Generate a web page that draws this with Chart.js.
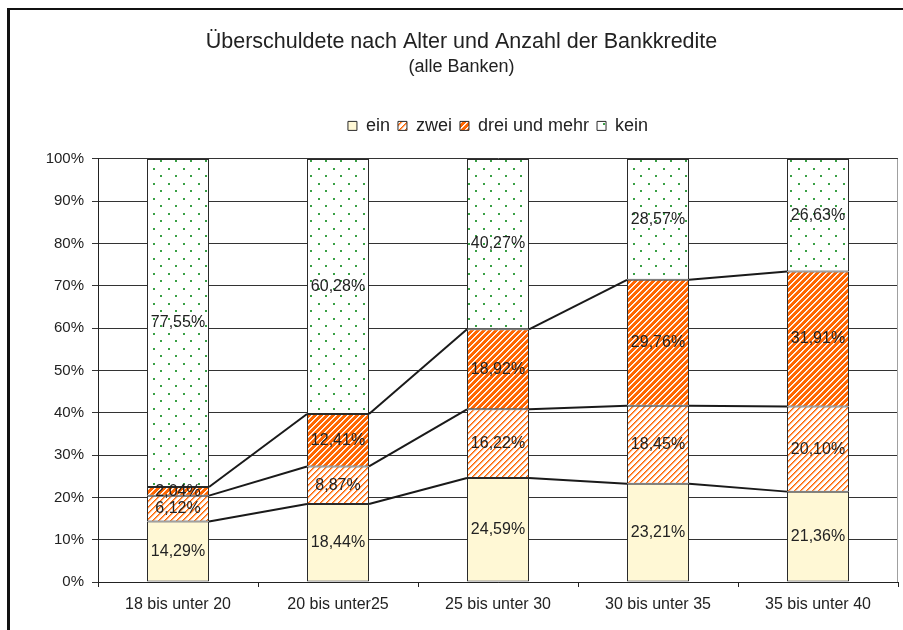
<!DOCTYPE html>
<html lang="de">
<head>
<meta charset="UTF-8">
<title>Überschuldete nach Alter und Anzahl der Bankkredite</title>
<script src="https://cdn.jsdelivr.net/npm/chart.js"></script>
<style>
  html, body { margin: 0; padding: 0; background: #fff; overflow: hidden; }
  #rahmen { position: absolute; left: 7px; top: 8px; width: 1000px; height: 800px;
            border-left: 3px solid #111; border-top: 2px solid #111; }
  #grafik { position: absolute; left: 0; top: 0; }
</style>
</head>
<body>
<div id="rahmen"></div>
<canvas id="grafik" width="903" height="630"></canvas>

<script>
  // Werte in Prozent
  const kategorien = ['18 bis unter 20', '20 bis unter25', '25 bis unter 30', '30 bis unter 35', '35 bis unter 40'];
  const ein = [14.29, 18.44, 24.59, 23.21, 21.36];
  const zwei = [6.12, 8.87, 16.22, 18.45, 20.10];
  const dreiUndMehr = [2.04, 12.41, 18.92, 29.76, 31.91];
  const kein = [77.55, 60.28, 40.27, 28.57, 26.63];
  const yTicks = [0, 10, 20, 30, 40, 50, 60, 70, 80, 90, 100];

  const SCHRIFT = '"Liberation Sans", Arial, sans-serif';
  const ABSTAND_LEGENDE = 14; // Luft zwischen Legende und Diagramm

  const canvas = document.getElementById('grafik');
  const ctx = canvas.getContext('2d');

  // schräge Schraffur "/" aus einer 6x6-Kachel
  function schraffur(farben) {
    const c = document.createElement('canvas');
    c.width = c.height = 6;
    const g = c.getContext('2d');
    for (let y = 0; y < 6; y++) {
      for (let x = 0; x < 6; x++) {
        g.fillStyle = farben[(x + y) % 6];
        g.fillRect(x, y, 1, 1);
      }
    }
    return ctx.createPattern(c, 'repeat');
  }

  function punkte() {
    const c = document.createElement('canvas');
    c.width = c.height = 15;
    const g = c.getContext('2d');
    g.fillStyle = '#fff';
    g.fillRect(0, 0, 15, 15);
    g.fillStyle = '#3aa046';
    g.fillRect(3, 3, 2, 2);
    g.fillRect(10, 10, 2, 2);
    return ctx.createPattern(c, 'repeat');
  }

  const O = '#ff6600', W = '#ffffff';
  const musterZwei = schraffur([O, '#ff9a57', '#ffe2cf', W, W, W]);
  const musterDrei = schraffur([W, '#ffe0cc', O, O, O, O]);
  const musterKein = punkte();

  // zusätzlicher Layout-Block unter der Legende
  const abstandPlugin = {
    id: 'abstand',
    beforeInit(chart) {
      Chart.layouts.addBox(chart, {
        position: 'top', weight: 1, fullSize: false, options: {},
        isHorizontal() { return true; },
        update(w) { this.width = w; this.height = ABSTAND_LEGENDE; },
        draw() {}
      });
    }
  };

  // rechter Rand der Zeichenfläche
  const randPlugin = {
    id: 'rand',
    beforeDatasetsDraw(chart) {
      const a = chart.chartArea;
      const c = chart.ctx;
      c.save();
      c.strokeStyle = '#a0a0a0';
      c.lineWidth = 1;
      c.beginPath();
      c.moveTo(a.right - 0.5, a.top);
      c.lineTo(a.right - 0.5, a.bottom);
      c.stroke();
      c.restore();
    }
  };

  // Reihenlinien zwischen den Säulen und Beschriftung der Segmente
  const linienUndWerte = {
    id: 'linienUndWerte',
    afterDatasetsDraw(chart) {
      const c = chart.ctx;
      c.save();
      c.strokeStyle = '#1a1a1a';
      c.lineWidth = 2;
      for (let d = 0; d < 3; d++) {
        const bars = chart.getDatasetMeta(d).data;
        for (let i = 0; i < bars.length - 1; i++) {
          const a = bars[i], b = bars[i + 1];
          c.beginPath();
          c.moveTo(a.x + a.width / 2, a.y);
          c.lineTo(b.x - b.width / 2, b.y);
          c.stroke();
        }
      }
      c.fillStyle = '#222';
      c.font = '16px ' + SCHRIFT;
      c.textAlign = 'center';
      c.textBaseline = 'middle';
      chart.data.datasets.forEach((ds, d) => {
        chart.getDatasetMeta(d).data.forEach((bar, i) => {
          const txt = ds.data[i].toFixed(2).replace('.', ',') + '%';
          c.fillText(txt, bar.x, (bar.y + bar.base) / 2);
        });
      });
      c.restore();
    }
  };

  const gemeinsam = {
    borderColor: '#2a2a2a', borderWidth: 1, borderSkipped: false,
    barPercentage: 0.3875, categoryPercentage: 1
  };

  new Chart(ctx, {
    type: 'bar',
    data: {
      labels: kategorien,
      datasets: [
        { label: 'ein', data: ein, backgroundColor: '#fff8d5', ...gemeinsam },
        { label: 'zwei', data: zwei, backgroundColor: musterZwei, ...gemeinsam },
        { label: 'drei und mehr', data: dreiUndMehr, backgroundColor: musterDrei, ...gemeinsam },
        { label: 'kein', data: kein, backgroundColor: musterKein, ...gemeinsam }
      ]
    },
    options: {
      responsive: false,
      animation: false,
      layout: { padding: { left: 25, right: 5, top: 0, bottom: 0 } },
      plugins: {
        title: {
          display: true,
          text: 'Überschuldete nach Alter und Anzahl der Bankkredite',
          color: '#222',
          font: { family: SCHRIFT, size: 21.5, weight: 'normal' },
          padding: { top: 29.5, bottom: 0 }
        },
        subtitle: {
          display: true,
          text: '(alle Banken)',
          color: '#222',
          font: { family: SCHRIFT, size: 18 },
          padding: { top: 1, bottom: 31 }
        },
        legend: {
          position: 'top',
          fullSize: false,
          labels: {
            color: '#222',
            font: { family: SCHRIFT, size: 18 },
            boxWidth: 9,
            boxHeight: 9,
            padding: 8
          }
        },
        tooltip: { enabled: false }
      },
      scales: {
        x: {
          stacked: true,
          grid: { drawOnChartArea: false, color: '#222', tickLength: 5 },
          border: { color: '#222', width: 1 },
          ticks: { color: '#222', font: { family: SCHRIFT, size: 16 }, padding: 8, maxRotation: 0 },
          afterFit(s) { s.height = 48; }
        },
        y: {
          stacked: true,
          min: 0,
          max: 100,
          afterBuildTicks(s) { s.ticks = yTicks.map(v => ({ value: v })); },
          grid: { color: '#333', tickLength: 6 },
          border: { color: '#222', width: 1 },
          ticks: { color: '#222', font: { family: SCHRIFT, size: 15 }, padding: 8, callback: v => v + '%' },
          afterFit(s) { s.width = 73; }
        }
      }
    },
    plugins: [abstandPlugin, randPlugin, linienUndWerte]
  });
</script>
</body>
</html>
